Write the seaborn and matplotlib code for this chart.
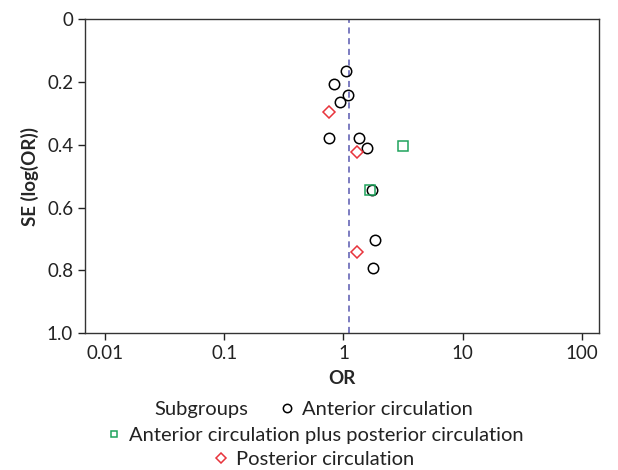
import numpy as np
import pandas as pd
import seaborn as sns
import matplotlib.pyplot as plt
from matplotlib.lines import Line2D

# funnel plot data
ant_or = [1.05, 0.83, 1.09, 0.93, 0.76, 1.36, 1.56, 1.72, 1.85, 1.76]
ant_se = [0.165, 0.207, 0.241, 0.265, 0.379, 0.377, 0.409, 0.543, 0.704, 0.794]
both_or = [3.17, 1.67]
both_se = [0.404, 0.545]
post_or = [0.76, 1.29, 1.29]
post_se = [0.296, 0.424, 0.742]
pooled_or = 1.11

groups = ['Anterior circulation',
          'Anterior circulation plus posterior circulation',
          'Posterior circulation']
colors = ['black', '#1fa35c', '#e8343c']
markers = ['o', 's', 'D']
sizes = [7.5, 6.5, 6.5]

df = pd.DataFrame({
    'OR': ant_or + both_or + post_or,
    'SE': ant_se + both_se + post_se,
    'Subgroup': [groups[0]] * len(ant_or) + [groups[1]] * len(both_or) + [groups[2]] * len(post_or),
})

sns.set_style('ticks')
plt.rcParams['font.family'] = ['Lato', 'DejaVu Sans']

fig = plt.figure(figsize=(6.18, 4.70), dpi=100)
ax = fig.add_axes([0.1375, 0.2915, 0.8325, 0.6675])

for g, c, m, s in zip(groups, colors, markers, sizes):
    sub = df[df['Subgroup'] == g]
    ax.plot(sub['OR'], sub['SE'], linestyle='none', marker=m, markersize=s,
            markerfacecolor='none', markeredgecolor=c, markeredgewidth=1.1,
            zorder=3)

ax.axvline(pooled_or, color='#5858b0', linestyle=(0, (4, 3)), lw=1.1, zorder=2)

ax.set_xscale('log')
ax.set_xlim(0.0068, 140)
ax.set_xticks([0.01, 0.1, 1, 10, 100])
ax.set_xticklabels(['0.01', '0.1', '1', '10', '100'])
ax.minorticks_off()
ax.set_ylim(1.0, 0)
ax.set_yticks([0, 0.2, 0.4, 0.6, 0.8, 1.0])
ax.set_yticklabels(['0', '0.2', '0.4', '0.6', '0.8', '1.0'])
ax.tick_params(labelsize=13.5, colors='#222222', length=5, width=1, direction='out')
for sp in ax.spines.values():
    sp.set_color('#333333')
    sp.set_linewidth(1)
ax.set_xlabel('OR', fontsize=13.5, fontweight='bold', labelpad=6)
ax.set_ylabel('SE (log(OR))', fontsize=13.5, fontweight='bold', labelpad=6)

# legend laid out in three centered rows
handles = [Line2D([], [], linestyle='none', marker=m, markersize=s - 1.5,
                  markerfacecolor='none', markeredgecolor=c, markeredgewidth=1.1)
           for c, m, s in zip(colors, markers, sizes)]
fig.text(201 / 618, 1 - 409 / 470, 'Subgroups', ha='center', va='center',
         fontsize=14.5, color='#222222')
rows = [(376, 409), (315, 435), (314, 459)]
for h, g, (cx, cy) in zip(handles, groups, rows):
    leg = fig.legend([h], [g], loc='center', bbox_to_anchor=(cx / 618, 1 - cy / 470),
                     frameon=False, fontsize=14.5, handlelength=0.7, handletextpad=0.4,
                     borderpad=0, borderaxespad=0)
    for t in leg.get_texts():
        t.set_color('#222222')

fig.savefig('out.png', dpi=100)
